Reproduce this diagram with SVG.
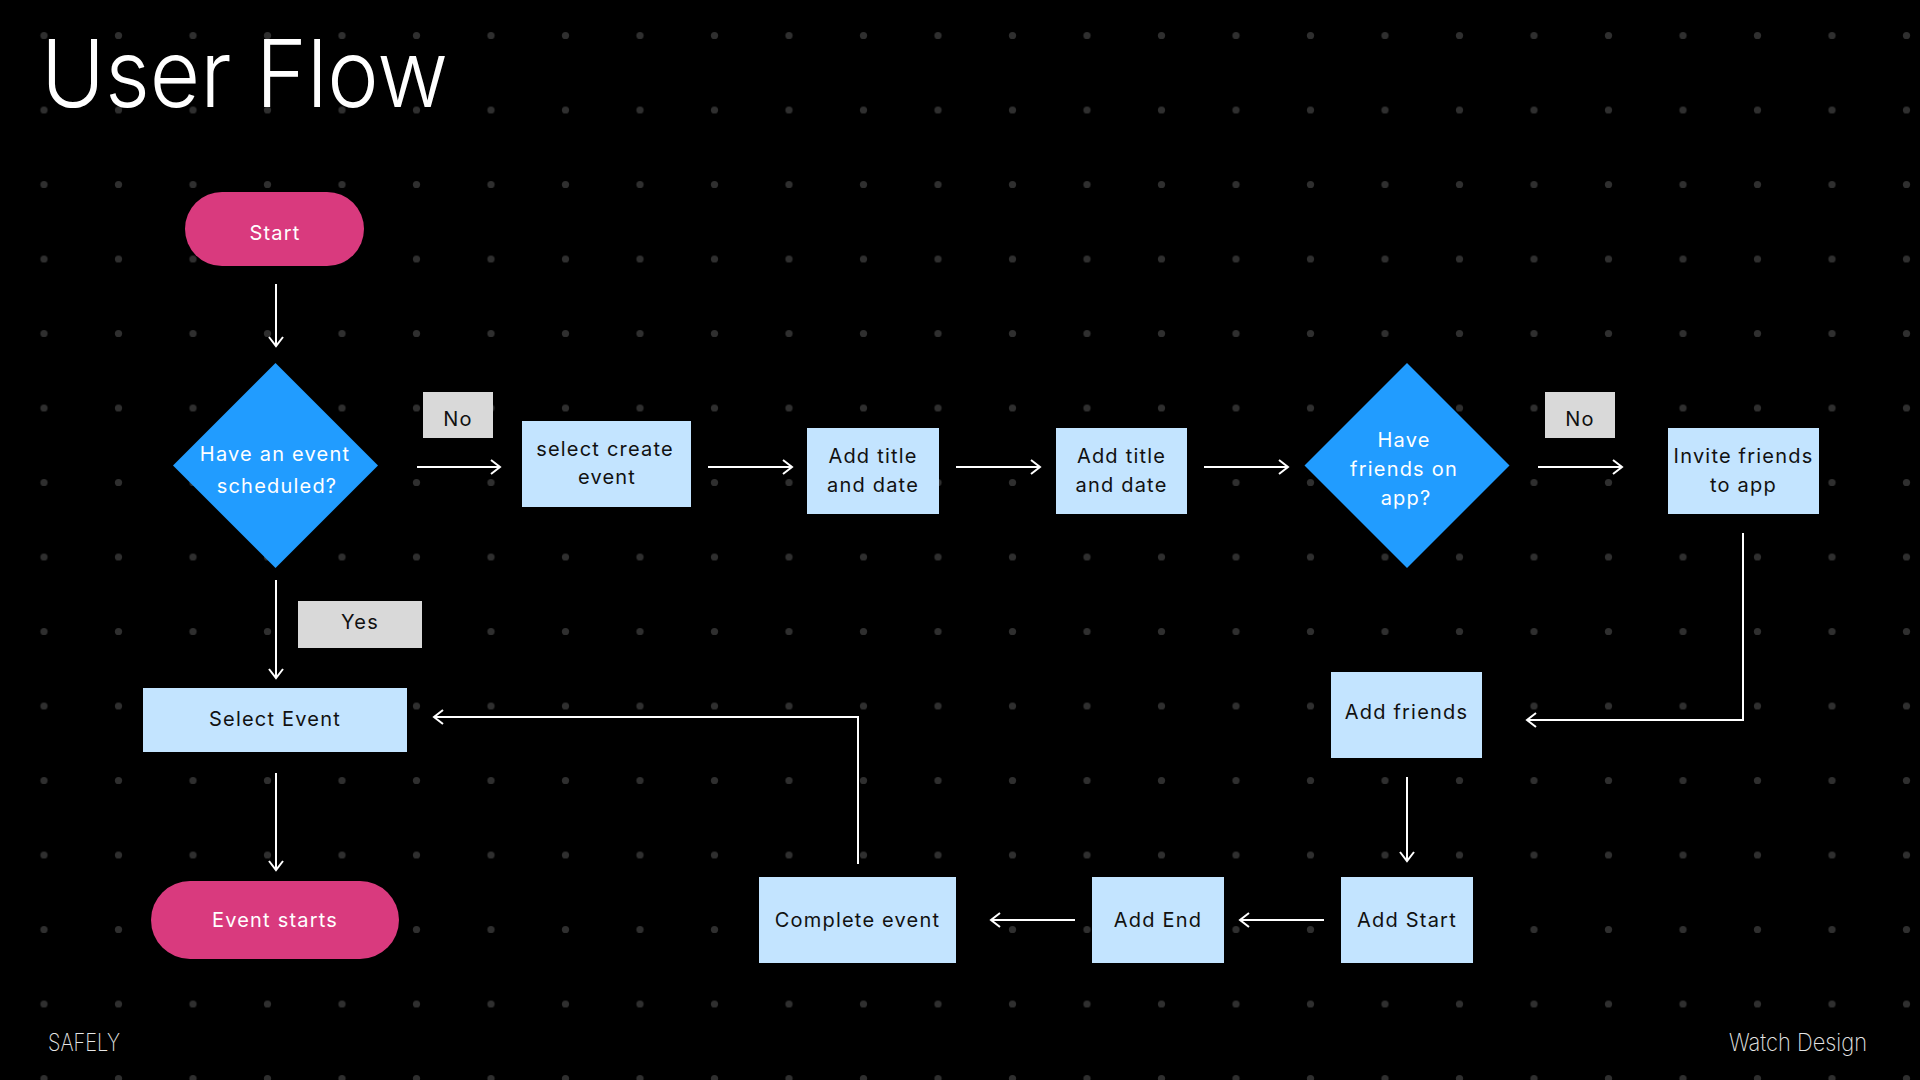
<svg xmlns="http://www.w3.org/2000/svg" width="1920" height="1080" viewBox="0 0 1920 1080">
  <defs>
    <pattern id="dots" x="6.75" y="-1.75" width="74.5" height="74.5" patternUnits="userSpaceOnUse">
      <circle cx="37.25" cy="37.25" r="3.6" fill="#2f2f2f"/>
    </pattern>
    <marker id="arr" markerUnits="userSpaceOnUse" markerWidth="14" markerHeight="18" refX="11" refY="9" orient="auto">
      <path d="M2,2 L11,9 L2,16" fill="none" stroke="#ffffff" stroke-width="2"/>
    </marker>
    <style>
      .lbl { font-family: Inter, "Noto Sans", "Liberation Sans", sans-serif; font-size: 20px; letter-spacing: 1.2px; text-anchor: middle; }
      .dark { fill: #111111; }
      .light { fill: #ffffff; }
      .box { fill: #C3E4FF; }
      .pill { fill: #D93A7E; }
      .dia { fill: #219CFF; }
      .tag { fill: #D9D9D9; }
      .conn { fill: none; stroke: #ffffff; stroke-width: 2; marker-end: url(#arr); }
      .foot { font-family: Inter, "Noto Sans", "Liberation Sans", sans-serif; font-size: 24px; font-weight: 200; fill: #e6e6e6; }
    </style>
  </defs>
  <rect width="1920" height="1080" fill="#000000"/>
  <rect width="1920" height="1080" fill="url(#dots)"/>

  <text x="41" y="107" font-family="Inter, 'Noto Sans', 'Liberation Sans', sans-serif" font-size="94" font-weight="300" fill="#ffffff" textLength="407" lengthAdjust="spacingAndGlyphs">User Flow</text>

  <g id="connectors">
    <path class="conn" d="M276,284 V346"/>
    <path class="conn" d="M417,467 H500"/>
    <path class="conn" d="M708,467 H792"/>
    <path class="conn" d="M956,467 H1040"/>
    <path class="conn" d="M1204,467 H1288"/>
    <path class="conn" d="M1538,467 H1622"/>
    <path class="conn" d="M1743,533 V720 H1527"/>
    <path class="conn" d="M1407,777 V861"/>
    <path class="conn" d="M1324,920 H1240"/>
    <path class="conn" d="M1075,920 H991"/>
    <path class="conn" d="M858,864 V717 H434"/>
    <path class="conn" d="M276,580 V678"/>
    <path class="conn" d="M276,773 V870"/>
  </g>

  <g id="start">
    <rect class="pill" x="185" y="192" width="179" height="74" rx="37"/>
    <text class="lbl light" x="275" y="240">Start</text>
  </g>

  <g id="decision-event">
    <polygon class="dia" points="275.5,363 378,465.5 275.5,568 173,465.5"/>
    <text class="lbl light" x="275" y="461">Have an event</text>
    <text class="lbl light" x="277" y="493">scheduled?</text>
  </g>

  <g id="label-no-1">
    <rect class="tag" x="423" y="392" width="70" height="46"/>
    <text class="lbl dark" x="458" y="426">No</text>
  </g>

  <g id="select-create-event">
    <rect class="box" x="522" y="421" width="169" height="86"/>
    <text class="lbl dark" x="605" y="456">select create</text>
    <text class="lbl dark" x="607" y="484">event</text>
  </g>

  <g id="add-title-1">
    <rect class="box" x="807" y="428" width="132" height="86"/>
    <text class="lbl dark" x="873" y="463">Add title</text>
    <text class="lbl dark" x="873" y="492">and date</text>
  </g>

  <g id="add-title-2">
    <rect class="box" x="1056" y="428" width="131" height="86"/>
    <text class="lbl dark" x="1121.5" y="463">Add title</text>
    <text class="lbl dark" x="1121.5" y="492">and date</text>
  </g>

  <g id="decision-friends">
    <polygon class="dia" points="1407,363 1509.5,465.5 1407,568 1304.5,465.5"/>
    <text class="lbl light" x="1404" y="447">Have</text>
    <text class="lbl light" x="1404" y="476">friends on</text>
    <text class="lbl light" x="1406" y="505">app?</text>
  </g>

  <g id="label-no-2">
    <rect class="tag" x="1545" y="392" width="70" height="46"/>
    <text class="lbl dark" x="1580" y="426">No</text>
  </g>

  <g id="invite-friends">
    <rect class="box" x="1668" y="428" width="151" height="86"/>
    <text class="lbl dark" x="1743.5" y="463">Invite friends</text>
    <text class="lbl dark" x="1743.5" y="492">to app</text>
  </g>

  <g id="add-friends">
    <rect class="box" x="1331" y="672" width="151" height="86"/>
    <text class="lbl dark" x="1406.5" y="719">Add friends</text>
  </g>

  <g id="add-start">
    <rect class="box" x="1341" y="877" width="132" height="86"/>
    <text class="lbl dark" x="1407" y="927">Add Start</text>
  </g>

  <g id="add-end">
    <rect class="box" x="1092" y="877" width="132" height="86"/>
    <text class="lbl dark" x="1158" y="927">Add End</text>
  </g>

  <g id="complete-event">
    <rect class="box" x="759" y="877" width="197" height="86"/>
    <text class="lbl dark" x="857.5" y="927">Complete event</text>
  </g>

  <g id="label-yes">
    <rect class="tag" x="298" y="601" width="124" height="47"/>
    <text class="lbl dark" x="360" y="629">Yes</text>
  </g>

  <g id="select-event">
    <rect class="box" x="143" y="688" width="264" height="64"/>
    <text class="lbl dark" x="275" y="726">Select Event</text>
  </g>

  <g id="event-starts">
    <rect class="pill" x="151" y="881" width="248" height="78" rx="39"/>
    <text class="lbl light" x="275" y="927">Event starts</text>
  </g>

  <text class="foot" x="48" y="1051" textLength="72" lengthAdjust="spacingAndGlyphs">SAFELY</text>
  <text class="foot" x="1729" y="1051" textLength="138" lengthAdjust="spacingAndGlyphs">Watch Design</text>
</svg>
